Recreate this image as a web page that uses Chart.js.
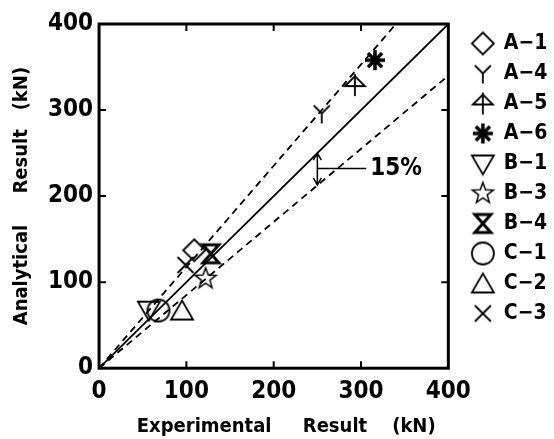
<!DOCTYPE html>
<html>
<head>
<meta charset="utf-8">
<script src="https://cdn.jsdelivr.net/npm/chart.js@4"></script>
<style>
  html, body { margin: 0; padding: 0; background: #fff; }
  #wrap { width: 554px; height: 439px; }
</style>
</head>
<body>
<div id="wrap"><canvas id="resultChart"></canvas></div>
<script>
const FONT = "'DejaVu Sans Condensed', 'DejaVu Sans', sans-serif";

// specimens: experimental vs analytical (kN)
const specimens    = ['A−1', 'A−4', 'A−5', 'A−6', 'B−1', 'B−3', 'B−4', 'C−1', 'C−2', 'C−3'];
const experimental = [109, 255, 293, 316, 57, 122, 128, 68, 95, 99];
const analytical   = [137, 296, 329, 358, 68, 104, 133, 67, 67, 120];

// reference lines (1:1 and ±15%)
const equalX = [0, 400];
const equalY = [0, 400];
const upperX = [0, 340];
const upperY = [0, 400];
const lowerX = [0, 400];
const lowerY = [0, 340];

const axisTicks = [0, 100, 200, 300, 400];

// "15%" note
const arrowX = 250;
const arrowTop = 250;
const arrowBottom = 213;
const noteY = 232;
const noteEndX = 306;
const noteLabel = '15%';

function makeMarker(draw, lw) {
    const c = document.createElement('canvas');
    c.width = 28;
    c.height = 28;
    const ctx = c.getContext('2d');
    ctx.translate(14, 14);
    ctx.strokeStyle = '#000';
    ctx.lineWidth = lw || 1.8;
    ctx.beginPath();
    draw(ctx);
    ctx.stroke();
    return c;
}

const markers = [
    // A-1 diamond
    makeMarker(ctx => { ctx.moveTo(0, -11); ctx.lineTo(11, 0); ctx.lineTo(0, 11); ctx.lineTo(-11, 0); ctx.closePath(); }),
    // A-4 Y
    makeMarker(ctx => { ctx.moveTo(-8, -8); ctx.lineTo(0, 0); ctx.lineTo(8, -8); ctx.moveTo(0, 0); ctx.lineTo(0, 10); }),
    // A-5 umbrella
    makeMarker(ctx => { ctx.moveTo(-10, 1); ctx.lineTo(0, -9); ctx.lineTo(10, 1); ctx.closePath(); ctx.moveTo(0, -11); ctx.lineTo(0, 11); }),
    // A-6 asterisk
    makeMarker(ctx => {
        for (let i = 0; i < 4; i++) {
            const a = i * Math.PI / 4;
            ctx.moveTo(-10 * Math.cos(a), -10 * Math.sin(a));
            ctx.lineTo(10 * Math.cos(a), 10 * Math.sin(a));
        }
    }, 3.5),
    // B-1 inverted triangle
    makeMarker(ctx => { ctx.moveTo(-11, -8); ctx.lineTo(11, -8); ctx.lineTo(0, 11); ctx.closePath(); }),
    // B-3 star
    makeMarker(ctx => {
        for (let i = 0; i < 10; i++) {
            const r = i % 2 ? 4.5 : 11;
            const a = -Math.PI / 2 + i * Math.PI / 5;
            ctx.lineTo(r * Math.cos(a), r * Math.sin(a));
        }
        ctx.closePath();
    }, 1.5),
    // B-4 hourglass
    makeMarker(ctx => { ctx.moveTo(-8, -9); ctx.lineTo(8, -9); ctx.lineTo(-8, 9); ctx.lineTo(8, 9); ctx.closePath(); }, 3),
    // C-1 circle
    makeMarker(ctx => { ctx.arc(0, 0, 11, 0, Math.PI * 2); }),
    // C-2 triangle
    makeMarker(ctx => { ctx.moveTo(0, -10); ctx.lineTo(11, 9); ctx.lineTo(-11, 9); ctx.closePath(); }),
    // C-3 cross
    makeMarker(ctx => { ctx.moveTo(-8, -8); ctx.lineTo(8, 8); ctx.moveTo(8, -8); ctx.lineTo(-8, 8); })
];

function pairs(xs, ys) {
    return xs.map((x, i) => ({ x: x, y: ys[i] }));
}

const lineSets = [
    { label: 'equal', data: pairs(equalX, equalY), borderDash: [] },
    { label: 'upper', data: pairs(upperX, upperY), borderDash: [7, 5] },
    { label: 'lower', data: pairs(lowerX, lowerY), borderDash: [7, 5] }
].map(s => ({
    type: 'line',
    label: s.label,
    data: s.data,
    borderColor: '#000',
    borderWidth: 1.8,
    borderDash: s.borderDash,
    pointRadius: 0,
    fill: false,
    order: 2
}));

const pointSets = specimens.map((name, i) => ({
    type: 'scatter',
    label: name,
    data: [{ x: experimental[i], y: analytical[i] }],
    pointStyle: markers[i],
    pointRadius: 11,
    borderColor: '#000',
    backgroundColor: '#000',
    order: 1
}));

// frame with inward ticks + the 15% note
const framePlugin = {
    id: 'frameTicks',
    afterDraw(chart) {
        const { ctx, chartArea: a, scales: { x, y } } = chart;
        ctx.save();
        ctx.strokeStyle = '#000';
        ctx.lineWidth = 3;
        ctx.strokeRect(a.left, a.top, a.right - a.left, a.bottom - a.top);
        ctx.lineWidth = 2;
        ctx.beginPath();
        axisTicks.slice(1, -1).forEach(v => {
            const px = x.getPixelForValue(v);
            const py = y.getPixelForValue(v);
            ctx.moveTo(px, a.bottom); ctx.lineTo(px, a.bottom - 7);
            ctx.moveTo(px, a.top); ctx.lineTo(px, a.top + 7);
            ctx.moveTo(a.left, py); ctx.lineTo(a.left + 7, py);
            ctx.moveTo(a.right, py); ctx.lineTo(a.right - 7, py);
        });
        ctx.stroke();

        const ax = x.getPixelForValue(arrowX);
        const t = y.getPixelForValue(arrowTop);
        const b = y.getPixelForValue(arrowBottom);
        const ny = y.getPixelForValue(noteY);
        ctx.lineWidth = 1.5;
        ctx.beginPath();
        ctx.moveTo(ax, t); ctx.lineTo(ax, b);
        ctx.moveTo(ax - 4, t + 7); ctx.lineTo(ax, t); ctx.lineTo(ax + 4, t + 7);
        ctx.moveTo(ax - 4, b - 7); ctx.lineTo(ax, b); ctx.lineTo(ax + 4, b - 7);
        ctx.moveTo(ax, ny); ctx.lineTo(x.getPixelForValue(noteEndX), ny);
        ctx.stroke();
        ctx.fillStyle = '#000';
        ctx.font = 'bold 24px ' + FONT;
        ctx.textBaseline = 'middle';
        ctx.fillText(noteLabel, x.getPixelForValue(noteEndX) + 4, ny);
        ctx.restore();
    }
};

function axisOptions(title, tickPad, titlePad) {
    return {
        type: 'linear',
        min: 0,
        max: 400,
        afterBuildTicks: axis => { axis.ticks = axisTicks.map(v => ({ value: v })); },
        grid: { display: false, drawTicks: false },
        border: { display: false },
        ticks: {
            color: '#000',
            padding: tickPad,
            font: { family: FONT, weight: 'bold', size: 24 }
        },
        title: {
            display: true,
            text: title,
            color: '#000',
            font: { family: FONT, weight: 'bold', size: 20 },
            padding: titlePad
        }
    };
}

new Chart(document.getElementById('resultChart'), {
    data: { datasets: lineSets.concat(pointSets) },
    options: {
        responsive: true,
        maintainAspectRatio: false,
        animation: false,
        layout: { padding: { top: 24, right: 0, bottom: 0, left: 10 } },
        scales: {
            x: axisOptions('    Experimental     Result    (kN)', 9, { top: 0, bottom: 0 }),
            y: axisOptions('Analytical     Result   (kN)', 6, { top: 0, bottom: 8 }),
            // spacer between plot and legend
            gap: {
                type: 'linear',
                position: 'right',
                display: true,
                grid: { display: false, drawTicks: false },
                border: { display: false },
                ticks: { display: false },
                afterFit: scale => { scale.width = 15; }
            }
        },
        plugins: {
            tooltip: { enabled: false },
            legend: {
                position: 'right',
                align: 'start',
                labels: {
                    usePointStyle: true,
                    color: '#000',
                    padding: 9,
                    font: { family: FONT, weight: 'bold', size: 21 },
                    filter: item => item.datasetIndex >= lineSets.length
                }
            }
        }
    },
    plugins: [framePlugin]
});
</script>
</body>
</html>
